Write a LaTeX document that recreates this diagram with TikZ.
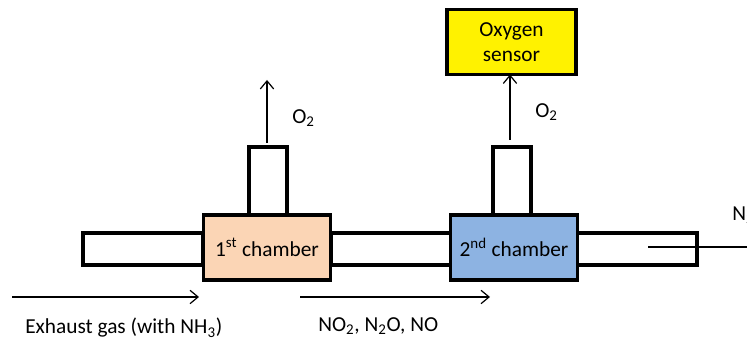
\documentclass[tikz,border=0pt]{standalone}
\usepackage{fontspec}
\setmainfont{Carlito}
\usetikzlibrary{arrows.meta}
\definecolor{peach}{HTML}{FBD5B5}
\definecolor{chblue}{HTML}{8DB3E2}
\begin{document}
\begin{tikzpicture}[x=0.75pt,y=-0.75pt,
  font=\fontsize{16}{19}\selectfont,
  boxline/.style={draw=black,line width=2.3pt,inner sep=0pt,outer sep=0pt},
  pipe/.style={boxline,fill=white,minimum width={120*0.75pt},minimum height={32*0.75pt}},
  chim/.style={boxline,fill=white,minimum width={38*0.75pt},minimum height={68*0.75pt}},
  chamber/.style={boxline,minimum width={127*0.75pt},minimum height={65*0.75pt}},
  flow/.style={line width=1pt,-{Straight Barb[length=6pt,width=10pt,line width=0.9pt]}},
  lbl/.style={inner sep=0pt,anchor=west}]
\useasboundingbox (0,0) rectangle (747,341);
\clip (0,0) rectangle (747,341);
% pipes
\node[pipe] (p1) at (143,249) {};
\node[pipe] (p2) at (391,249) {};
\node[pipe] (p3) at (637,249) {};
% chimneys
\node[chim] (c1) at (268,181) {};
\node[chim] (c2) at (512,181) {};
% chambers
\node[chamber,fill=peach] (ch1) at (267,247.5) {1\textsuperscript{st} chamber};
\node[chamber,fill=chblue] (ch2) at (514,247.5) {2\textsuperscript{nd} chamber};
% sensor
\node[boxline,fill=yellow,minimum width={129*0.75pt},minimum height={65*0.75pt},align=center,font=\fontsize{16}{18.5}\selectfont] (sens) at (511.5,42) {Oxygen\\sensor};
% vertical arrows
\coordinate (a1s) at (267,143);
\coordinate (a1e) at (267,80);
\draw[flow] (a1s) -- (a1e);
\coordinate (a2s) at (510,140);
\draw[flow] (a2s) -- (sens.south -| a2s);
\node[lbl] (o1) at (292,118) {O\textsubscript{2}};
\node[lbl] (o2) at (535,112) {O\textsubscript{2}};
% right outlet arrow
\coordinate (r1) at (648,247);
\coordinate (r2) at (757,247);
\draw[flow] (r1) -- (r2);
\node[lbl] (n2) at (732,215) {N\textsubscript{2}};
% bottom arrows
\coordinate (b1s) at (12,297);
\coordinate (b1e) at (199,297);
\draw[flow] (b1s) -- (b1e);
\coordinate (b2s) at (300,297);
\coordinate (b2e) at (490,297);
\draw[flow] (b2s) -- (b2e);
\node[lbl] (ex) at (25,328) {Exhaust gas (with NH\textsubscript{3})};
\node[lbl] (no) at (318,326) {NO\textsubscript{2}, N\textsubscript{2}O, NO};
\end{tikzpicture}
\end{document}
